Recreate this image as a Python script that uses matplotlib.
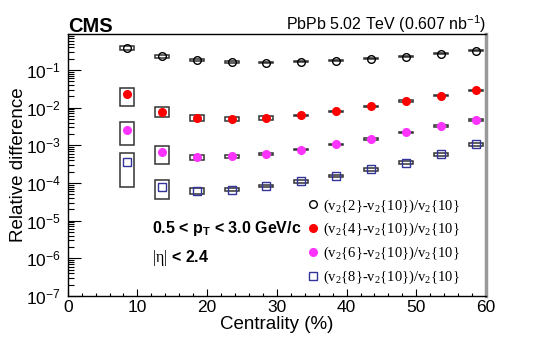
import numpy as np
import matplotlib
matplotlib.use("Agg")
import matplotlib.pyplot as plt
from matplotlib.ticker import LogLocator, MultipleLocator, NullFormatter

plt.rcParams['font.family'] = ['Liberation Sans', 'DejaVu Sans']
plt.rcParams['mathtext.fontset'] = 'custom'
plt.rcParams['mathtext.rm'] = 'Liberation Serif'
plt.rcParams['mathtext.default'] = 'regular'

# centrality bin positions (%)
cent = [8.5, 13.5, 18.5, 23.5, 28.5, 33.5, 38.5, 43.5, 48.5, 53.5, 58.5]

# relative differences
v22 = [0.385, 0.231, 0.181, 0.163, 0.157, 0.163, 0.178, 0.200, 0.227, 0.273, 0.328]
v24 = [0.0226, 0.00783, 0.00542, 0.00498, 0.00528, 0.00623, 0.00798, 0.01084, 0.0150, 0.0209, 0.0288]
v26 = [0.0026, 0.000647, 0.000476, 0.000507, 0.000598, 0.000764, 0.001056, 0.00146, 0.0022, 0.00332, 0.00468]
v28 = [0.000357, 7.9e-5, 6.2e-5, 6.7e-5, 8.4e-5, 1.1e-4, 1.52e-4, 2.29e-4, 3.44e-4, 5.73e-4, 1.06e-3]

# relative systematic uncertainties (box half heights)
s22 = [0.12, 0.08, 0.05, 0.04, 0.04, 0.03, 0.03, 0.03, 0.03, 0.03, 0.03]
s24 = [0.50, 0.30, 0.18, 0.12, 0.13, 0.05, 0.04, 0.04, 0.04, 0.04, 0.04]
s26 = [0.60, 0.50, 0.16, 0.07, 0.05, 0.04, 0.04, 0.04, 0.05, 0.05, 0.05]
s28 = [0.78, 0.52, 0.17, 0.08, 0.07, 0.07, 0.08, 0.08, 0.10, 0.10, 0.10]

labels = [r"(v$_2${2}-v$_2${10})/v$_2${10}",
          r"(v$_2${4}-v$_2${10})/v$_2${10}",
          r"(v$_2${6}-v$_2${10})/v$_2${10}",
          r"(v$_2${8}-v$_2${10})/v$_2${10}"]

series = [
    (v22, s22, "o", "black", "none", 5.5),
    (v24, s24, "o", "#ff0000", "#ff0000", 5.5),
    (v26, s26, "o", "#ff33ff", "#ff33ff", 5.5),
    (v28, s28, "s", "#333399", "none", 5.5),
]

fig = plt.figure(figsize=(5.4, 3.39), dpi=100)
ax = fig.add_axes([0.1254, 0.1268, 0.7746, 0.7729])

handles = []
for (vals, sys, mk, col, fc, ms), lab in zip(series, labels):
    vals = np.array(vals)
    sys = np.array(sys)
    ax.bar(cent, 2 * sys * vals, bottom=vals * (1 - sys), width=2.0,
           fill=False, edgecolor="#333333", linewidth=1.1, zorder=2)
    h, = ax.plot(cent, vals, linestyle="none", marker=mk, color=col,
                 markerfacecolor=fc, markeredgecolor=col, markersize=ms,
                 markeredgewidth=1.0, zorder=3, label=lab)
    handles.append(h)

ax.set_yscale("log")
ax.set_xlim(0, 60)
ax.set_ylim(1e-7, 0.9)

ax.xaxis.set_major_locator(MultipleLocator(10))
ax.xaxis.set_minor_locator(MultipleLocator(2))
ax.yaxis.set_major_locator(LogLocator(base=10, numticks=20))
ax.yaxis.set_minor_locator(LogLocator(base=10, subs=np.arange(2, 10), numticks=20))
ax.yaxis.set_minor_formatter(NullFormatter())

ax.tick_params(axis="both", which="both", direction="in", top=False, right=False,
               labelsize=12.5, width=0.8)
ax.tick_params(axis="x", which="major", length=5, pad=3)
ax.tick_params(axis="x", which="minor", length=2.5)
ax.tick_params(axis="y", which="major", length=9, pad=5)
ax.tick_params(axis="y", which="minor", length=4.5)

for side in ["left", "bottom", "top"]:
    ax.spines[side].set_linewidth(1.0)
    ax.spines[side].set_color("black")
ax.spines["right"].set_color("#999999")
ax.spines["right"].set_linewidth(2.5)

fig.text(67.7 / 540, 1 - 32.5 / 339, "CMS", fontsize=14.5, fontweight="bold",
         ha="left", va="baseline")
fig.text(486.7 / 540, 1 - 30 / 339, "PbPb 5.02 TeV (0.607 nb$^{-1}$)", fontsize=11.5,
         ha="right", va="baseline")
fig.text(18.5 / 540, 1 - 165 / 339, "Relative difference", fontsize=13.5,
         rotation=90, ha="center", va="center")
fig.text(277 / 540, 1 - 329 / 339, "Centrality (%)", fontsize=13.5,
         ha="center", va="baseline")

ax.text((151.7 - 67.7) / 418.3, (296 - 233.3) / 262, "0.5 < p$_T$ < 3.0 GeV/c",
        transform=ax.transAxes, fontsize=11.5, fontweight="bold", ha="left", va="baseline")
ax.text((151.7 - 67.7) / 418.3, (296 - 262.3) / 262, r"$\mathrm{|\eta|}$ < 2.4",
        transform=ax.transAxes, fontsize=11.5, fontweight="bold", ha="left", va="baseline")

ax.legend(handles=handles, loc="upper left", bbox_to_anchor=(0.569, 0.377),
          frameon=False, borderpad=0, borderaxespad=0, handlelength=1.0,
          handletextpad=0.2, labelspacing=0.45,
          prop={"family": "Liberation Serif", "size": 10.5})

fig.savefig("out.png", dpi=100)
